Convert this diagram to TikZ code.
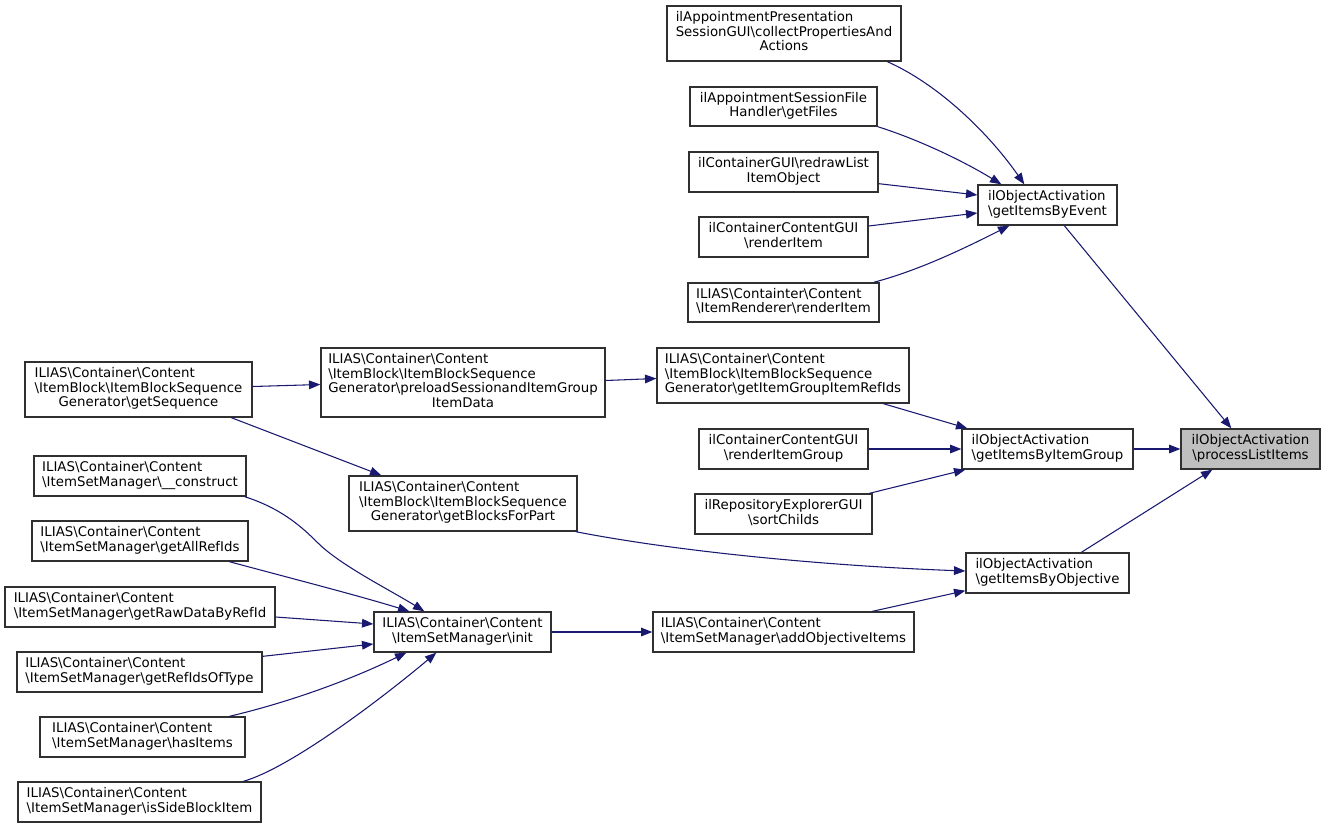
\documentclass[tikz,border=0pt]{standalone}
\usepackage{fontspec}
\setmainfont{DejaVu Sans}
\usetikzlibrary{arrows.meta,calc}
\definecolor{edgec}{HTML}{191970}
\definecolor{bord}{HTML}{303030}
\definecolor{hl}{HTML}{BFBFBF}
\newcommand\bs{\textbackslash{}}
\newcommand\lb[2]{\begin{tabular}{@{}l@{}}#1\\\multicolumn{1}{@{}c@{}}{#2}\end{tabular}}
\newcommand\dbox[7][]{\node[box,#1,minimum width={(#5-#3)*0.75pt},minimum height={(#6-#4)*0.75pt}] (#2) at ({(#3+#5)/2},{(#4+#6)/2}) {#7};}
\tikzset{
  box/.style={draw=bord, fill=white, line width=1pt, inner sep=0pt, font=\fontsize{10}{10.9}\selectfont},
  conn/.style={draw=edgec, line width=0.8pt, -{Triangle[length=8.5pt,width=6.5pt]}},
}
\begin{document}
\begin{tikzpicture}[x=0.75pt,y=-0.75pt]
\useasboundingbox (0,0) rectangle (1325,829);
% right column
\dbox[fill=hl]{P}{1181}{429}{1320}{469}{\lb{ilObjectActivation}{\bs processListItems}}
\dbox{E}{978}{185}{1117}{225}{\lb{ilObjectActivation}{\bs getItemsByEvent}}
\dbox{G}{962}{429}{1133}{469}{\lb{ilObjectActivation}{\bs getItemsByItemGroup}}
\dbox{O}{966}{553}{1129}{593}{\lb{ilObjectActivation}{\bs getItemsByObjective}}
% callers of getItemsByEvent
\dbox{A1}{667}{6}{901}{61}{\lb{ilAppointmentPresentation\\SessionGUI\bs collectPropertiesAnd}{Actions}}
\dbox{A2}{690}{87}{877}{126}{\lb{ilAppointmentSessionFile}{Handler\bs getFiles}}
\dbox{A3}{689}{152}{878}{192}{\lb{ilContainerGUI\bs redrawList}{ItemObject}}
\dbox{A4}{699}{217}{868}{257}{\lb{ilContainerContentGUI}{\bs renderItem}}
\dbox{A5}{688}{283}{879}{322}{\lb{ILIAS\bs Containter\bs Content}{\bs ItemRenderer\bs renderItem}}
% callers of getItemsByItemGroup
\dbox{GI}{657}{348}{909}{403}{\lb{ILIAS\bs Container\bs Content\\\bs ItemBlock\bs ItemBlockSequence}{Generator\bs getItemGroupItemRefIds}}
\dbox{RIG}{699}{429}{868}{469}{\lb{ilContainerContentGUI}{\bs renderItemGroup}}
\dbox{SC}{695}{494}{872}{534}{\lb{ilRepositoryExplorerGUI}{\bs sortChilds}}
% block generator
\dbox{PS}{321}{348}{605}{417}{\lb{ILIAS\bs Container\bs Content\\\bs ItemBlock\bs ItemBlockSequence\\Generator\bs preloadSessionandItemGroup}{ItemData}}
\dbox{GS}{25}{362}{252}{417}{\lb{ILIAS\bs Container\bs Content\\\bs ItemBlock\bs ItemBlockSequence}{Generator\bs getSequence}}
\dbox{BP}{349}{476}{577}{531}{\lb{ILIAS\bs Container\bs Content\\\bs ItemBlock\bs ItemBlockSequence}{Generator\bs getBlocksForPart}}
% item set manager
\dbox{ASM}{653}{612}{914}{652}{\lb{ILIAS\bs Container\bs Content}{\bs ItemSetManager\bs addObjectiveItems}}
\dbox{INIT}{374}{612}{551}{652}{\lb{ILIAS\bs Container\bs Content}{\bs ItemSetManager\bs init}}
\dbox{C1}{34}{456}{246}{496}{\lb{ILIAS\bs Container\bs Content}{\bs ItemSetManager\bs \_\_construct}}
\dbox{C2}{32}{521}{248}{561}{\lb{ILIAS\bs Container\bs Content}{\bs ItemSetManager\bs getAllRefIds}}
\dbox{C3}{5}{587}{275}{627}{\lb{ILIAS\bs Container\bs Content}{\bs ItemSetManager\bs getRawDataByRefId}}
\dbox{C4}{17}{652}{262}{692}{\lb{ILIAS\bs Container\bs Content}{\bs ItemSetManager\bs getRefIdsOfType}}
\dbox{C5}{40}{717}{245}{757}{\lb{ILIAS\bs Container\bs Content}{\bs ItemSetManager\bs hasItems}}
\dbox{C6}{18}{782}{261}{822}{\lb{ILIAS\bs Container\bs Content}{\bs ItemSetManager\bs isSideBlockItem}}
% edges into getItemsByEvent
\draw[conn] ($(A1.south west)+(221,0)$) .. controls (940,85) and (990,135) .. ($(E.north west)+(47,0)$);
\draw[conn] (A2.south east) .. controls (920,140) and (965,162) .. ($(E.north west)+(24,0)$);
\draw[conn] ($(A3.south east)+(0,-9)$) -- ($(E.west)+(0,-10)$);
\draw[conn] ($(A4.east)+(0,-11)$) -- ($(E.west)+(0,8)$);
\draw[conn] ($(A5.north east)+(-6,0)$) .. controls (920,270) and (965,248) .. ($(E.south west)+(32,0)$);
% into processListItems
\draw[conn] ($(E.south west)+(87,0)$) -- ($(P.north west)+(51,0)$);
\draw[conn] (G.east) -- (P.west);
\draw[conn] ($(O.north west)+(116,0)$) -- ($(P.south west)+(32,0)$);
% into getItemsByItemGroup
\draw[conn] ($(GI.south west)+(227,0)$) -- ($(G.north west)+(6,0)$);
\draw[conn] (RIG.east) -- (G.west);
\draw[conn] ($(SC.north west)+(175,0)$) -- ($(G.south west)+(4,0)$);
% generator chain
\draw[conn] ($(PS.east)+(0,-2)$) -- ($(GI.west)+(0,3)$);
\draw[conn] ($(GS.east)+(0,-3)$) -- ($(PS.west)+(0,2)$);
\draw[conn] ($(GS.south west)+(207,0)$) -- ($(BP.north west)+(33,0)$);
\draw[conn] ($(BP.south east)+(-2,0)$) .. controls (680,552) and (830,566) .. ($(O.west)+(0,-2)$);
% item set manager
\draw[conn] (INIT.east) -- (ASM.west);
\draw[conn] ($(ASM.north west)+(220,0)$) -- ($(O.south west)+(0,-3)$);
\draw[conn] ($(C1.south east)+(-2,0)$) .. controls (280,508) and (300,525) .. (318,543) .. controls (340,565) and (390,590) .. ($(INIT.north west)+(51,0)$);
\draw[conn] ($(C2.south west)+(198,0)$) .. controls (290,578) and (360,596) .. ($(INIT.north west)+(36,0)$);
\draw[conn] ($(C3.east)+(0,10)$) -- ($(INIT.west)+(0,-8)$);
\draw[conn] ($(C4.north east)+(0,5)$) -- ($(INIT.west)+(0,12)$);
\draw[conn] ($(C5.north west)+(190,0)$) .. controls (290,702) and (350,680) .. ($(INIT.south west)+(33,0)$);
\draw[conn] ($(C6.north west)+(226,0)$) .. controls (290,768) and (380,700) .. ($(INIT.south west)+(63,0)$);
\end{tikzpicture}
\end{document}
